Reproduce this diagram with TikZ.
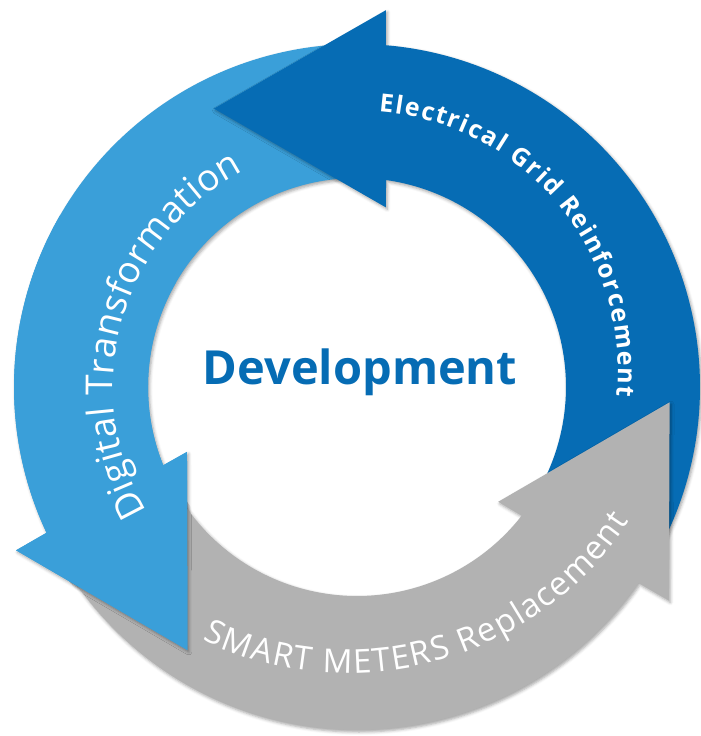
\documentclass[tikz,border=0pt]{standalone}
\usepackage{fontspec}
\setmainfont{Open Sans}
\usetikzlibrary{decorations.text,shadows.blur}

\definecolor{gridblue}{RGB}{6,108,180}
\definecolor{digiblue}{RGB}{58,159,217}
\definecolor{metergray}{RGB}{178,178,178}

% one arrow of the ring, turned by #1 degrees
\newcommand{\ringarrow}[1]{({#1-27}:343) arc[start angle={#1-27},end angle={#1+85.15},radius=343]
  -- ({#1+85.6}:378) -- ({#1+117.2}:313) -- ({#1+80.9}:182) -- ({#1+82}:209)
  arc[start angle={#1+82},end angle={#1-27},radius=209] -- cycle}

\begin{document}
\begin{tikzpicture}[x=1pt,y=1pt,
  softshadow/.style={blur shadow={shadow xshift=1.5pt,shadow yshift=-2pt,shadow blur radius=3pt,shadow opacity=35}},
  ringtext/.style={decorate,decoration={text along path,text color=white,text align=fit to path}}]

\useasboundingbox (-357,-349) rectangle (344,387);

%% The three arrows of the ring
\fill[digiblue,softshadow] \ringarrow{120};
\fill[gridblue,softshadow] \ringarrow{0};
\fill[metergray,softshadow] \ringarrow{240};

%% head of the light blue arrow again, over the tail of the gray one
\begin{scope}
\clip (209:205) arc[start angle=209,end angle=255,radius=205] -- (255:347)
  arc[start angle=255,end angle=209,radius=347] -- cycle;
\fill[digiblue,softshadow] \ringarrow{120};
\end{scope}
\begin{scope}
\clip (0,0) -- (150:400) arc[start angle=150,end angle=260,radius=400] -- cycle;
\fill[digiblue] \ringarrow{120};
\end{scope}

%% The texts along the ring
\path[ringtext,decoration={text={|\bfseries\fontsize{25}{30}\selectfont|Electrical Grid Reinforcement}}]
  (2,17) ++(85.6:259) arc[start angle=85.6,end angle=-5.9,radius=259];
\path[ringtext,decoration={text={|\fontsize{37}{44}\selectfont|Digital Transformation}}]
  (210.7:244) arc[start angle=210.7,end angle=117.75,radius=244];
\path[ringtext,decoration={text={|\fontsize{33}{40}\selectfont|SMART METERS Replacement}}]
  (-9,51) ++(244.35:337) arc[start angle=244.35,end angle=326.6,radius=337];

%% The middle
\node[anchor=base,text=gridblue,font=\bfseries\fontsize{47}{56}\selectfont] (dev) at (3,2) {Development};

\end{tikzpicture}
\end{document}
